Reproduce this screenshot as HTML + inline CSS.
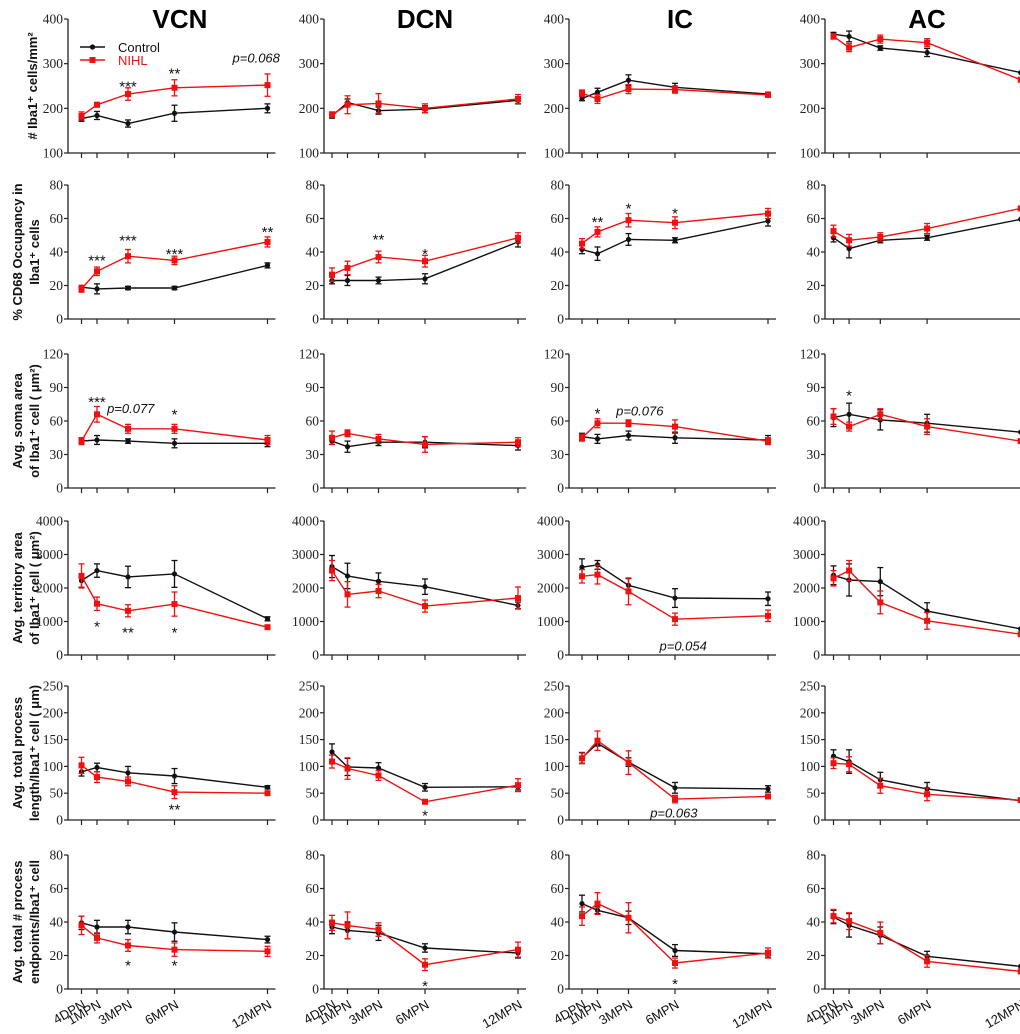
<!DOCTYPE html>
<html><head><meta charset="utf-8"><style>
html,body{margin:0;padding:0;background:#fff;}
svg{display:block;}
.tick{font-family:"Liberation Serif",serif;font-size:13.5px;fill:#222;}
.ttl{font-family:"Liberation Sans",sans-serif;font-weight:bold;font-size:26px;fill:#000;}
.yt{font-family:"Liberation Sans",sans-serif;font-weight:bold;font-size:13px;fill:#111;}
.ann{font-family:"Liberation Sans",sans-serif;font-size:15px;fill:#111;}
.pv{font-family:"Liberation Sans",sans-serif;font-style:italic;font-size:13px;fill:#111;}
.xl{font-family:"Liberation Sans",sans-serif;font-size:13px;fill:#111;}
</style></head><body>
<svg id="fig" width="1020" height="1034" viewBox="0 0 1020 1034" xmlns="http://www.w3.org/2000/svg"></svg>
<script>
// ---- data ----
const months=[0,1,3,6,12];
const xLabels=['4DPN','1MPN','3MPN','6MPN','12MPN'];
const regions=['VCN','DCN','IC','AC'];
const rowMin=[100,0,0,0,0,0];
const rowMax=[400,80,120,4000,250,80];
const rowTicks=[[100,200,300,400],[0,20,40,60,80],[0,30,60,90,120],[0,1000,2000,3000,4000],[0,50,100,150,200,250],[0,20,40,60,80]];
const ctrlMean=[
 [[177,184,166,189,200],[183,213,195,198,218],[222,236,263,247,232],[366,361,335,325,280]],
 [[19,18,18.5,18.5,32],[23,23,23,24,46],[41.5,39,47.5,47,58.5],[48.5,42,47,48.5,59.5]],
 [[42,43,42,40,40],[42,37,41,41,38],[46,44,47,45,43],[63,66,61,58,50]],
 [[2220,2520,2330,2420,1080],[2640,2360,2200,2040,1480],[2620,2690,2080,1700,1680],[2380,2240,2190,1310,780]],
 [[90,98,88,82,61],[127,99,97,61,62],[116,143,108,60,58],[119,109,75,58,36]],
 [[39.5,37,37,34,29.5],[37,35,33.5,24.5,21.5],[51,47,42.5,23,21],[43,38,32,19.5,13.5]]
];
const ctrlErr=[
 [[6,9,8,18,10],[5,8,8,8,8],[5,9,12,9,4],[4,12,5,9,0]],
 [[1,3,1,1,1.5],[2,3,2,3,3],[2.5,4,3.5,1.5,3],[2.5,5.5,1.5,1.5,0]],
 [[3,4,2,4,3],[3,5,3,5,4],[3,4,4,5,4],[8,10,9,8,0]],
 [[200,200,320,400,60],[330,380,250,230,100],[250,130,200,280,200],[280,480,420,250,0]],
 [[8,8,12,14,3],[15,16,10,7,6],[10,5,8,10,6],[12,22,14,12,0]],
 [[4,4,4,5.5,2],[4,5,4.5,2.5,3],[5,2,4,3.5,2],[4,7,5,3,0]]
];
const nihlMean=[
 [[183,208,232,246,252],[186,208,211,200,221],[234,221,243,242,230],[361,336,355,347,264]],
 [[18,28.5,37.5,35,46],[26.5,30.5,37,34.5,48.5],[45,52,59,57.5,63],[52.5,47,49,54,66]],
 [[42,66,53,53,43],[45,49,44,39,41],[45,58,58,55,42],[64,55,66,55,42]],
 [[2360,1530,1320,1520,830],[2520,1810,1910,1460,1700],[2350,2400,1900,1070,1170],[2290,2520,1570,1020,620]],
 [[102,80,72,52,50],[109,96,83,34,65],[115,148,107,39,44],[106,104,64,48,37]],
 [[38,30.5,26,23.5,22.5],[39.5,38,35.5,14.5,23.5],[43.5,51,42.5,15.5,21.5],[43.5,40.5,33.5,16.5,10.5]]
];
const nihlErr=[
 [[9,5,14,18,25],[6,20,22,10,10],[7,10,10,8,4],[6,9,9,9,0]],
 [[2,2.5,4,2.5,3],[4,4,3.5,3.5,3],[3,3,4,3.5,3],[3.5,3.5,2.5,3,0]],
 [[3,7,4,4,4],[6,3,4,7,4],[3,4,3,6,3],[7,4,5,7,0]],
 [[360,200,180,360,60],[300,380,200,180,330],[200,280,400,180,170],[230,300,340,250,0]],
 [[15,10,8,12,3],[12,20,9,3,12],[10,18,22,7,4],[10,14,14,12,0]],
 [[5.5,3,3.5,4,3],[4.5,8,4,3.5,4.5],[5.5,6.5,9,3,3],[4,5,6.5,3.5,0]]
];
const annRow=[0,0,0, 1,1,1,1, 2,2,2, 3,3,3, 4, 5,5, 1,1, 4, 5, 1,1,1, 2,2, 3, 4, 5, 2];
const annCol=[0,0,0, 0,0,0,0, 0,0,0, 0,0,0, 0, 0,0, 1,1, 1, 1, 2,2,2, 2,2, 2, 2, 2, 3];
const annText=['***','**','p=0.068','***','***','***','**','***','p=0.077','*','*','**','*','**','*','*','**','*','*','*','**','*','*','*','p=0.076','p=0.054','p=0.063','*','*'];
const annMonth=[3,6,12.8,1,3,6,12,1,1.65,6,1,3,6,6,3,6,3,6,6,6,1,3,6,1,2.2,5.0,4.4,6,1];
const annValue=[257,286,313,37,49,41,54,80,71,69,955,780,780,26,16,16,49.5,41,15,4,60,68,65,70,69,270,13,5,86];
const yTitle1=['# Iba1\u207A cells/mm\u00B2','% CD68 Occupancy in','Avg. soma area','Avg. territory area','Avg. total process','Avg. total # process'];
const yTitle2=['','Iba1\u207A cells','of Iba1\u207A cell ( \u03BCm\u00B2)','of Iba1\u207A cell ( \u03BCm\u00B2)','length/Iba1\u207A cell ( \u03BCm)','endpoints/Iba1\u207A cell'];

// ---- layout ----
const axisX=[68,324,569,825];
const x0s=[81.5,332,582,833.5];
const kx=[15.5,15.5,15.5,15.6];
const rowTop=[19,185,354,521,686,855];
const H=134;
const NS='http://www.w3.org/2000/svg';
const svg=document.getElementById('fig');
function mk(tag,attrs,parent){const e=document.createElementNS(NS,tag);for(const a in attrs)e.setAttribute(a,attrs[a]);(parent||svg).appendChild(e);return e;}
function xs(c,m){return x0s[c]+kx[c]*m;}
function ys(r,v){return rowTop[r]+H-(v-rowMin[r])/(rowMax[r]-rowMin[r])*H;}

const titleX=[180,425,680,927];
regions.forEach((t,c)=>{
  const e=mk('text',{x:titleX[c],y:28,'text-anchor':'middle',class:'ttl'});
  e.textContent=t;
  
  
});

for(let r=0;r<6;r++){
  const cy=rowTop[r]+H/2;
  if(yTitle2[r]===''){
    const t=mk('text',{x:0,y:0,'text-anchor':'middle',class:'yt',transform:`translate(37,${cy}) rotate(-90)`});
    t.textContent=yTitle1[r];
    
    
  } else {
    const t=mk('text',{x:0,y:0,'text-anchor':'middle',class:'yt',transform:`translate(22,${cy}) rotate(-90)`});
    t.textContent=yTitle1[r];
    
    
    const t2=mk('text',{x:0,y:0,'text-anchor':'middle',class:'yt',transform:`translate(39,${cy}) rotate(-90)`});
    t2.textContent=yTitle2[r];
    
    
  }
  for(let c=0;c<4;c++){
    const g=mk('g',{});
    
    
    const ax=axisX[c], bot=rowTop[r]+H;
    const yax=mk('line',{x1:ax,y1:rowTop[r],x2:ax,y2:bot,stroke:'#222','stroke-width':1.3},g);
    
    
    const xend=Math.min(xs(c,12)+8,1020);
    const xax=mk('line',{x1:ax,y1:bot,x2:xend,y2:bot,stroke:'#222','stroke-width':1.3},g);
    
    
    rowTicks[r].forEach(v=>{
      const y=ys(r,v);
      mk('line',{x1:ax-4,y1:y,x2:ax,y2:y,stroke:'#222','stroke-width':1.2},g);
      const t=mk('text',{x:ax-5,y:y+4.5,'text-anchor':'end',class:'tick'},g);
      t.textContent=v;
      
      
    });
    months.forEach((m,i)=>{
      const x=xs(c,m);
      mk('line',{x1:x,y1:bot,x2:x,y2:bot+5,stroke:'#222','stroke-width':1.2},g);
      if(r===5){
        const t=mk('text',{x:0,y:0,'text-anchor':'end',class:'xl',transform:`translate(${x+5},${bot+18}) rotate(-30)`},g);
        t.textContent=xLabels[i];
        
        
      }
    });
    const series=[[ctrlMean[r][c],ctrlErr[r][c],'#111','control'],[nihlMean[r][c],nihlErr[r][c],'#f01010','nihl']];
    series.forEach(([mean,err,col,nm])=>{
      const pts=mean.map((v,i)=>xs(c,months[i]).toFixed(1)+','+ys(r,v).toFixed(1)).join(' ');
      const pl=mk('polyline',{points:pts,fill:'none',stroke:col,'stroke-width':1.4},g);
      
      
      mean.forEach((v,i)=>{
        const x=xs(c,months[i]);
        if(err[i]>0){
          const y1=ys(r,v+err[i]), y2=ys(r,v-err[i]);
          mk('line',{x1:x,y1:y1,x2:x,y2:y2,stroke:col,'stroke-width':1.3},g);
          mk('line',{x1:x-3,y1:y1,x2:x+3,y2:y1,stroke:col,'stroke-width':1.3},g);
          mk('line',{x1:x-3,y1:y2,x2:x+3,y2:y2,stroke:col,'stroke-width':1.3},g);
        }
        let mkEl;
        if(nm==='control') mkEl=mk('circle',{cx:x,cy:ys(r,v),r:2.6,fill:col},g);
        else mkEl=mk('rect',{x:x-3,y:ys(r,v)-3,width:6,height:6,fill:col},g);
        
        
      });
    });
  }
}
annText.forEach((t,i)=>{
  const r=annRow[i],c=annCol[i];
  const isP=t.startsWith('p=');
  const y=ys(r,annValue[i]);
  let anchor='middle';
  if(isP) anchor=(annMonth[i]>12)?'end':'start';
  const e=mk('text',{x:xs(c,annMonth[i]),y:isP?y+4.5:y+8.5,'text-anchor':anchor,class:isP?'pv':'ann'});
  e.textContent=t;
  
  
});
const lg=mk('g',{});


mk('line',{x1:80,y1:47,x2:105,y2:47,stroke:'#111','stroke-width':1.4},lg);
mk('circle',{cx:92.5,cy:47,r:2.6,fill:'#111'},lg);
const l1=mk('text',{x:118,y:52,class:'xl','font-size':'14'},lg);
l1.textContent='Control';


mk('line',{x1:80,y1:60,x2:105,y2:60,stroke:'#f01010','stroke-width':1.4},lg);
mk('rect',{x:89.5,y:57,width:6,height:6,fill:'#f01010'},lg);
const l2=mk('text',{x:118,y:65,class:'xl','font-size':'14'},lg);
l2.textContent='NIHL';
l2.setAttribute('style','fill:#f01010');


</script>
</body></html>
